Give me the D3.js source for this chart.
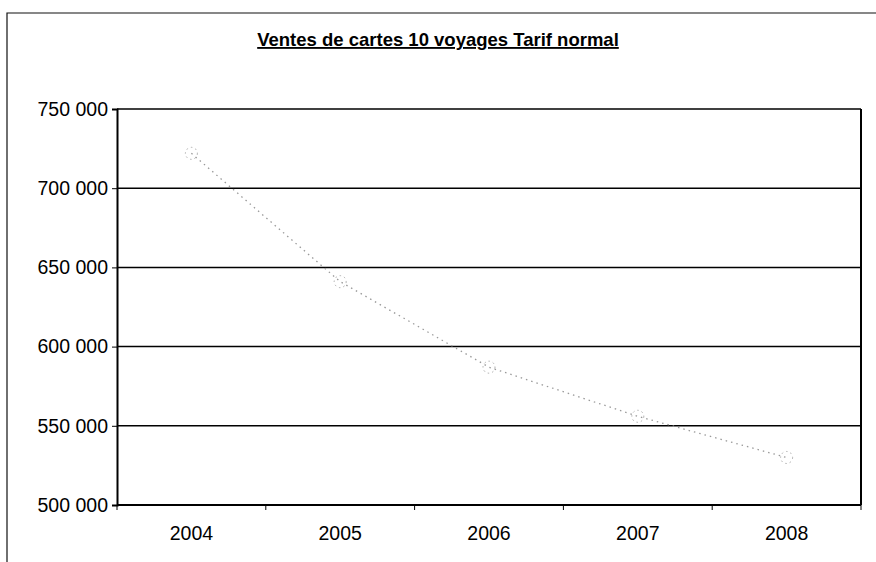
<!DOCTYPE html>
<html>
<head>
<meta charset="utf-8">
<script src="https://cdn.jsdelivr.net/npm/d3@7"></script>
<style>
  body { margin: 0; background: #fff; }
  svg { display: block; font-family: "Liberation Sans", Arial, sans-serif; }
</style>
</head>
<body>
<svg width="876" height="562"></svg>
<script>
// data
const years = ["2004", "2005", "2006", "2007", "2008"];
const ventes = [722000, 641000, 587000, 556000, 530000];
const yTicks = [500000, 550000, 600000, 650000, 700000, 750000];

const svg = d3.select("svg");
const margin = {left: 117, right: 15, top: 109, bottom: 57};
const width = 876 - margin.left - margin.right;
const height = 562 - margin.top - margin.bottom;

// outer frame (only top and left edges show in the scan)
svg.append("path")
    .attr("d", "M7,562 V13 H876")
    .attr("fill", "none")
    .attr("stroke", "#111")
    .attr("stroke-width", 1.2);

// title
svg.append("text")
    .attr("x", 438)
    .attr("y", 46)
    .attr("text-anchor", "middle")
    .attr("font-size", "18.5px")
    .attr("font-weight", "bold")
    .attr("text-decoration", "underline")
    .text("Ventes de cartes 10 voyages Tarif normal");

const g = svg.append("g").attr("transform", `translate(${margin.left},${margin.top})`);

const x = d3.scaleBand().domain(years).range([0, width]);
const y = d3.scaleLinear().domain([500000, 750000]).range([height, 0]);

const fmt = v => d3.format(",")(v).replace(/,/g, " ");

// gridlines
g.append("g")
    .selectAll("line")
    .data(yTicks)
    .enter()
    .append("line")
    .attr("x1", 0)
    .attr("x2", width)
    .attr("y1", d => y(d))
    .attr("y2", d => y(d))
    .attr("stroke", "#000")
    .attr("stroke-width", 1.5);

// right border
g.append("line")
    .attr("x1", width).attr("x2", width)
    .attr("y1", 0).attr("y2", height)
    .attr("stroke", "#000")
    .attr("stroke-width", 2);

// y axis
const yAxis = g.append("g")
    .call(d3.axisLeft(y).tickValues(yTicks).tickFormat(fmt).tickSize(5).tickPadding(4));
yAxis.select(".domain").attr("stroke-width", 2);
yAxis.selectAll("text").attr("font-size", "19.5px").attr("fill", "#000")
    .attr("font-family", "Liberation Sans, Arial, sans-serif");

// x axis with ticks at the category boundaries
const xAxis = g.append("g").attr("transform", `translate(0,${height})`);
xAxis.append("line")
    .attr("x1", 0).attr("x2", width)
    .attr("stroke", "#000").attr("stroke-width", 2);
xAxis.selectAll("line.tick")
    .data(years.concat(["end"]))
    .enter()
    .append("line")
    .attr("class", "tick")
    .attr("x1", (d, i) => i * x.bandwidth())
    .attr("x2", (d, i) => i * x.bandwidth())
    .attr("y1", 0).attr("y2", 5)
    .attr("stroke", "#000");
xAxis.selectAll("text")
    .data(years)
    .enter()
    .append("text")
    .attr("x", d => x(d) + x.bandwidth() / 2)
    .attr("y", 35)
    .attr("text-anchor", "middle")
    .attr("font-size", "19.5px")
    .text(d => d);

// faded dotted series line
const line = d3.line()
    .x((d, i) => x(years[i]) + x.bandwidth() / 2)
    .y(d => y(d));

g.append("path")
    .datum(ventes)
    .attr("d", line)
    .attr("fill", "none")
    .attr("stroke", "#999")
    .attr("stroke-width", 1.3)
    .attr("stroke-dasharray", "1.5,4");

g.selectAll("circle")
    .data(ventes)
    .enter()
    .append("circle")
    .attr("cx", (d, i) => x(years[i]) + x.bandwidth() / 2)
    .attr("cy", d => y(d))
    .attr("r", 6)
    .attr("fill", "none")
    .attr("stroke", "#aaa")
    .attr("stroke-width", 1)
    .attr("stroke-dasharray", "1.5,3");
</script>
</body>
</html>
